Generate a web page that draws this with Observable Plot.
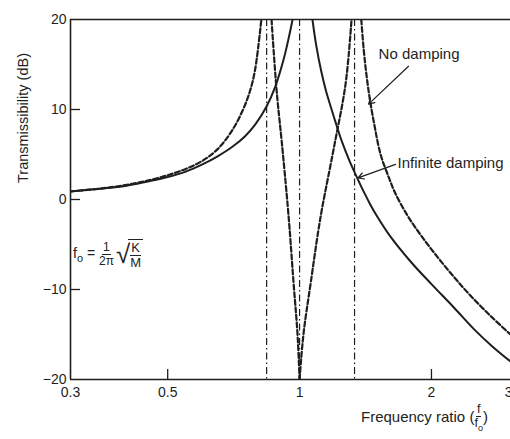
<!DOCTYPE html>
<html>
<head>
<meta charset="utf-8">
<script src="https://cdn.jsdelivr.net/npm/d3@7"></script>
<script src="https://cdn.jsdelivr.net/npm/@observablehq/plot@0.6"></script>
<style>
  html, body { margin: 0; padding: 0; background: #fff; }
  #wrap { position: relative; width: 510px; height: 439px; overflow: hidden; font-family: "Liberation Sans", Arial, sans-serif; color: #222; }
  .ov { position: absolute; white-space: nowrap; }
  .frac { display: inline-flex; flex-direction: column; align-items: center; vertical-align: middle; line-height: 1.05; }
  .frac > span:first-child { border-bottom: 1px solid #222; padding: 0 1px; }
</style>
</head>
<body>
<div id="wrap"></div>
<script>
// ---- data ----
const xTicks = [0.3, 0.5, 1, 2, 3];
const yTicks = [-20, -10, 0, 10, 20];
const innerXTicks = [0.5, 1, 2];
const innerYTicks = [-10, 0, 10];

// Infinite damping (solid) — two branches
const solidLeftR  = [0.3, 0.35, 0.4, 0.45, 0.5, 0.55, 0.6, 0.65, 0.7, 0.75, 0.794, 0.84, 0.881, 0.92, 0.945, 0.964];
const solidLeftDb = [0.9, 1.2, 1.5, 2.0, 2.5, 3.1, 3.9, 4.8, 5.8, 7.0, 8.4, 10.3, 12.6, 15.6, 18.0, 20];
const solidRightR  = [1.07, 1.09, 1.12, 1.15, 1.18, 1.208, 1.25, 1.3, 1.342, 1.4, 1.452, 1.5, 1.6, 1.8, 2.0, 2.25, 2.5, 2.75, 3.03];
const solidRightDb = [20, 17.3, 14.3, 12.0, 10.2, 8.6, 6.4, 4.3, 2.8, 0.9, -0.6, -1.8, -3.9, -7.0, -9.4, -12.0, -14.4, -16.3, -18.0];

// No damping (dashed) — four branches
const dashAR  = [0.3, 0.35, 0.4, 0.45, 0.5, 0.55, 0.6, 0.65, 0.7, 0.74, 0.77, 0.79, 0.805, 0.818];
const dashADb = [0.9, 1.2, 1.6, 2.1, 2.7, 3.4, 4.3, 5.6, 7.6, 9.8, 12.0, 14.2, 17.0, 20];
const dashBR  = [0.863, 0.886, 0.914, 0.944, 0.969, 0.989, 1.0];
const dashBDb = [20, 12.2, 5.6, -1.9, -9.3, -14.9, -20];
const dashCR  = [1.0, 1.021, 1.06, 1.117, 1.196, 1.274, 1.314];
const dashCDb = [-20, -14.9, -9.3, -1.9, 5.6, 12.9, 20];
const dashDR  = [1.383, 1.40, 1.42, 1.445, 1.48, 1.531, 1.6, 1.65, 1.764, 1.9, 2.065, 2.25, 2.457, 2.75, 3.03];
const dashDDb = [20, 16.8, 14.0, 11.3, 8.4, 5.0, 2.4, 0.8, -1.8, -4.1, -6.4, -8.6, -10.7, -13.1, -15.0];

// Dash-dot reference frequencies
const refFreqs = [0.841, 1.0, 1.335];

// Annotations
const labelNames = ["No damping", "Infinite damping"];
const labelR  = [1.515, 1.674];
const labelDb = [16.1, 4.0];
const arrowFromR  = [1.773, 1.656];
const arrowFromDb = [14.8, 3.9];
const arrowToR    = [1.437, 1.36];
const arrowToDb   = [10.6, 2.4];

// ---- build tables ----
const toRows = (rs, dbs, branch) => rs.map((r, i) => ({r, db: dbs[i], branch}));
const solid = [...toRows(solidLeftR, solidLeftDb, "L"), ...toRows(solidRightR, solidRightDb, "R")];
const dashed = [
  ...toRows(dashAR, dashADb, "A"), ...toRows(dashBR, dashBDb, "B"),
  ...toRows(dashCR, dashCDb, "C"), ...toRows(dashDR, dashDDb, "D")
];
const labels = labelNames.map((t, i) => ({t, r: labelR[i], db: labelDb[i]}));
const arrows = arrowFromR.map((_, i) => ({x1: arrowFromR[i], y1: arrowFromDb[i], x2: arrowToR[i], y2: arrowToDb[i]}));

const ink = "#1e1e1e";
const chart = Plot.plot({
  width: 510,
  height: 439,
  marginLeft: 70,
  marginRight: 0,
  marginTop: 19,
  marginBottom: 60,
  style: {fontFamily: "'Liberation Sans', Arial, sans-serif", fontSize: "14px", color: ink, background: "white", overflow: "visible"},
  x: {type: "log", domain: [0.3, 3.03], ticks: xTicks, tickFormat: d => String(d), tickSize: 0, tickPadding: 8, label: null},
  y: {domain: [-20, 20], ticks: yTicks, tickSize: 0, tickPadding: 4, label: null},
  marks: [
    Plot.ruleX(refFreqs, {stroke: ink, strokeWidth: 1.2, strokeDasharray: "7,3,1.5,3"}),
    Plot.line(solid, {x: "r", y: "db", z: "branch", curve: "catmull-rom", stroke: ink, strokeWidth: 2, clip: true}),
    Plot.line(dashed, {x: "r", y: "db", z: "branch", curve: "catmull-rom", stroke: ink, strokeWidth: 2.2, strokeDasharray: "5,2.6", clip: true}),
    Plot.ruleX(innerXTicks, {stroke: ink, strokeWidth: 1.3, insetTop: 350}),
    Plot.ruleY(innerYTicks, {stroke: ink, strokeWidth: 1.3, insetRight: 430}),
    Plot.ruleY([20], {stroke: ink, strokeWidth: 1.6}),
    Plot.ruleY([-20], {stroke: ink, strokeWidth: 1.6}),
    Plot.ruleX([0.3], {stroke: ink, strokeWidth: 1.6}),
    Plot.arrow(arrows, {x1: "x1", y1: "y1", x2: "x2", y2: "y2", stroke: ink, strokeWidth: 1.2, headLength: 8, bend: 0}),
    Plot.text(labels, {x: "r", y: "db", text: "t", textAnchor: "start", fontSize: 15, fill: ink})
  ]
});
const wrap = document.getElementById("wrap");
wrap.appendChild(chart);

function overlay(html, style) {
  const d = document.createElement("div");
  d.className = "ov";
  d.innerHTML = html;
  Object.assign(d.style, style);
  wrap.appendChild(d);
}
// y-axis title
overlay("Transmissibility (dB)", {left: "23px", top: "118px", fontSize: "14.5px", transform: "translate(-50%,-50%) rotate(-90deg)"});
// x-axis title
overlay('Frequency ratio (<span class="frac" style="font-size:12.5px"><span>f</span><span>f<sub style="font-size:9px">o</sub></span></span>)',
        {left: "361px", top: "403px", fontSize: "15px"});
// resonance formula
overlay('f<sub style="font-size:11px">o</sub> = <span class="frac" style="font-size:12px"><span>1</span><span>2π</span></span>' +
        '<span style="font-size:26px;vertical-align:middle;margin-left:2px">√</span>' +
        '<span class="frac" style="font-size:13px;border-top:1px solid #222;margin-left:-2px;padding:1px 2px 0"><span>K</span><span>M</span></span>',
        {left: "73px", top: "239px", fontSize: "14px"});
</script>
</body>
</html>
